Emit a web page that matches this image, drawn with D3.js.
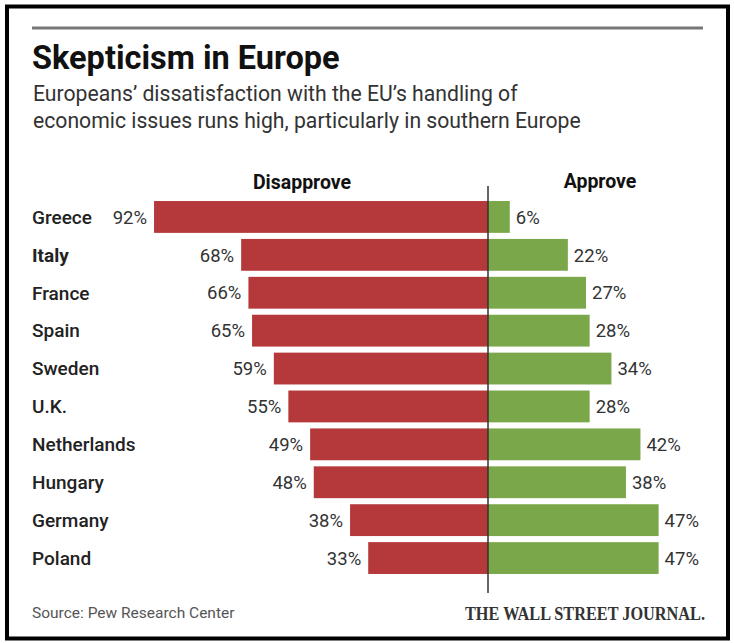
<!DOCTYPE html>
<html>
<head>
<meta charset="utf-8">
<script src="https://cdn.jsdelivr.net/npm/d3@7"></script>
<style>
body { margin: 0; background: #fff; }
.sans { font-family: Roboto, "Noto Sans", sans-serif; }
.serif { font-family: "Liberation Serif", "DejaVu Serif", serif; }
</style>
</head>
<body>
<svg id="chart" width="734" height="643"></svg>
<script>
// data
let countries = ['Greece', 'Italy', 'France', 'Spain', 'Sweden', 'U.K.', 'Netherlands', 'Hungary', 'Germany', 'Poland'];
let disapprove = [92, 68, 66, 65, 59, 55, 49, 48, 38, 33];
let approve = [6, 22, 27, 28, 34, 28, 42, 38, 47, 47];

let red = '#b5383b';
let green = '#7ba74b';
let centerX = 488;

const svg = d3.select('#chart');

// frame
svg.append('rect')
    .attr('x', 7).attr('y', 6.5)
    .attr('width', 721).attr('height', 632)
    .attr('fill', 'none').attr('stroke', '#000').attr('stroke-width', 4);

svg.append('line')
    .attr('x1', 32).attr('x2', 703)
    .attr('y1', 28).attr('y2', 28)
    .attr('stroke', '#777').attr('stroke-width', 3);

svg.append('text').attr('class', 'sans')
    .attr('x', 32).attr('y', 69)
    .attr('font-size', 32.5).attr('font-weight', 700).attr('fill', '#111')
    .text('Skepticism in Europe');

svg.append('text').attr('class', 'sans')
    .attr('x', 33).attr('y', 101)
    .attr('font-size', 21.2).attr('fill', '#333')
    .text('Europeans\u2019 dissatisfaction with the EU\u2019s handling of');
svg.append('text').attr('class', 'sans')
    .attr('x', 33).attr('y', 128)
    .attr('font-size', 21.2).attr('fill', '#333')
    .text('economic issues runs high, particularly in southern Europe');

// scales
let xLeft = d3.scaleLinear().domain([0, 100]).range([centerX, centerX - 363]);
let xRight = d3.scaleLinear().domain([0, 100]).range([centerX, centerX + 363]);
let y = d3.scaleBand().domain(countries).range([198, 577]).paddingInner(0.16).paddingOuter(0.08);

let rows = countries.map(function(c, i) {
    return {'name': c, 'dis': disapprove[i], 'app': approve[i]};
});

svg.append('text').attr('class', 'sans')
    .attr('x', 302).attr('y', 189)
    .attr('text-anchor', 'middle')
    .attr('font-size', 19.5).attr('font-weight', 700).attr('fill', '#111')
    .text('Disapprove');
svg.append('text').attr('class', 'sans')
    .attr('x', 600).attr('y', 188)
    .attr('text-anchor', 'middle')
    .attr('font-size', 19.5).attr('font-weight', 700).attr('fill', '#111')
    .text('Approve');

let g = svg.append('g').attr('class', 'bars');

g.selectAll('rect.dis')
    .data(rows)
    .enter().append('rect')
    .attr('class', 'dis')
    .attr('x', function(d) { return xLeft(d.dis); })
    .attr('y', function(d) { return y(d.name); })
    .attr('width', function(d) { return xLeft(0) - xLeft(d.dis); })
    .attr('height', y.bandwidth())
    .attr('fill', red);

g.selectAll('rect.app')
    .data(rows)
    .enter().append('rect')
    .attr('class', 'app')
    .attr('x', xRight(0))
    .attr('y', function(d) { return y(d.name); })
    .attr('width', function(d) { return xRight(d.app) - xRight(0); })
    .attr('height', y.bandwidth())
    .attr('fill', green);

g.selectAll('text.name')
    .data(rows)
    .enter().append('text')
    .attr('class', 'name sans')
    .attr('x', 32)
    .attr('y', function(d) { return y(d.name) + y.bandwidth() / 2; })
    .attr('dy', '0.36em')
    .attr('font-size', 19)
    .attr('font-weight', function(d) { return d.name == 'Italy' ? 700 : 500; })
    .attr('fill', '#222')
    .text(function(d) { return d.name; });

g.selectAll('text.disval')
    .data(rows)
    .enter().append('text')
    .attr('class', 'disval sans')
    .attr('x', function(d) { return xLeft(d.dis) - 7; })
    .attr('y', function(d) { return y(d.name) + y.bandwidth() / 2; })
    .attr('dy', '0.36em')
    .attr('text-anchor', 'end')
    .attr('font-size', 18.5).attr('fill', '#333')
    .text(function(d) { return d.dis + '%'; });

g.selectAll('text.appval')
    .data(rows)
    .enter().append('text')
    .attr('class', 'appval sans')
    .attr('x', function(d) { return xRight(d.app) + 6; })
    .attr('y', function(d) { return y(d.name) + y.bandwidth() / 2; })
    .attr('dy', '0.36em')
    .attr('font-size', 18.5).attr('fill', '#333')
    .text(function(d) { return d.app + '%'; });

// center axis
svg.append('line')
    .attr('x1', centerX).attr('x2', centerX)
    .attr('y1', 186).attr('y2', 593)
    .attr('stroke', '#333').attr('stroke-width', 1.5);

svg.append('text').attr('class', 'sans')
    .attr('x', 32).attr('y', 618)
    .attr('font-size', 15.5).attr('fill', '#555')
    .text('Source: Pew Research Center');

svg.append('text').attr('class', 'serif')
    .attr('x', 465).attr('y', 620)
    .attr('textLength', 240).attr('lengthAdjust', 'spacingAndGlyphs')
    .attr('font-size', 18).attr('font-weight', 700).attr('fill', '#333')
    .text('THE WALL STREET JOURNAL.');
</script>
</body>
</html>
